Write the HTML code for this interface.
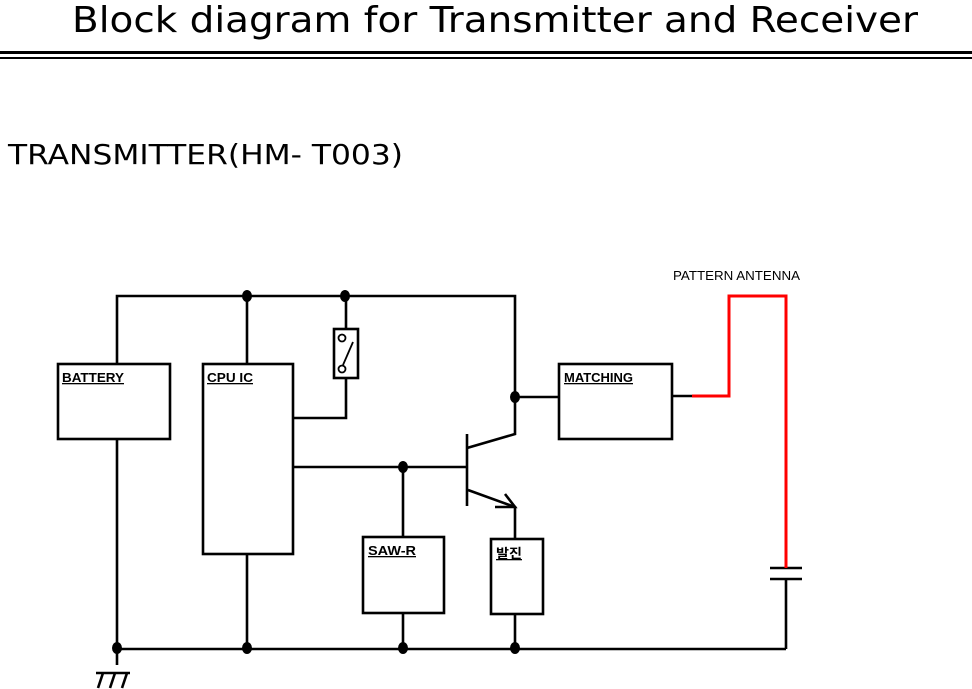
<!DOCTYPE html>
<html><head><meta charset="utf-8"><style>
html,body{margin:0;padding:0;background:#fff;}
svg{display:block;}
</style></head><body>
<svg width="972" height="689" xmlns="http://www.w3.org/2000/svg">
<text x="72" y="32" font-family="DejaVu Sans, sans-serif" font-size="36" textLength="846" lengthAdjust="spacingAndGlyphs" fill="#000">Block diagram for Transmitter and Receiver</text>
<rect x="0" y="51" width="972" height="3" fill="#000"/>
<rect x="0" y="57" width="972" height="2" fill="#000"/>
<text x="8" y="164" font-family="DejaVu Sans, sans-serif" font-size="28" textLength="395" lengthAdjust="spacingAndGlyphs" fill="#000">TRANSMITTER(HM- T003)</text>

<g stroke="#000" stroke-width="2.6" fill="none">
<polyline points="117,364 117,296 515,296 515,434 467,448"/>
<line x1="247" y1="296" x2="247" y2="364"/>
<line x1="346" y1="296" x2="346" y2="329"/>
<polyline points="346,378 346,418 293,418"/>
<rect x="58" y="364" width="112" height="75"/>
<rect x="203" y="364" width="90" height="190"/>
<rect x="334" y="329" width="24" height="49"/>
<rect x="559" y="364" width="113" height="75"/>
<rect x="363" y="537" width="81" height="76"/>
<rect x="491" y="539" width="52" height="75"/>
<line x1="117" y1="439" x2="117" y2="665"/>
<line x1="247" y1="554" x2="247" y2="649"/>
<line x1="515" y1="397" x2="559" y2="397"/>
<line x1="293" y1="467" x2="467" y2="467"/>
<line x1="403" y1="467" x2="403" y2="537"/>
<line x1="467" y1="434" x2="467" y2="506"/>
<polyline points="468,490 515,507 515,539"/>
<polyline points="495,507 515,507 505,494"/>
<line x1="403" y1="613" x2="403" y2="649"/>
<line x1="515" y1="614" x2="515" y2="649"/>
<line x1="117" y1="649" x2="786" y2="649"/>
<line x1="786" y1="579" x2="786" y2="649"/>
<line x1="672" y1="396" x2="692" y2="396"/>
<line x1="770" y1="568" x2="802" y2="568"/>
<line x1="770" y1="579" x2="802" y2="579"/>
<line x1="96" y1="673" x2="130" y2="673"/>
<line x1="103" y1="673" x2="98" y2="688"/>
<line x1="115" y1="673" x2="110" y2="688"/>
<line x1="127" y1="673" x2="122" y2="688"/>
<circle cx="342" cy="338" r="3.5" stroke-width="1.8"/>
<circle cx="342" cy="369" r="3.5" stroke-width="1.8"/>
<line x1="343" y1="365" x2="353" y2="342" stroke-width="1.8"/>
</g>
<polyline points="692,396 729,396 729,296 786,296 786,568" stroke="#f00" stroke-width="3" fill="none"/>
<g fill="#000">
<ellipse cx="247" cy="296" rx="5" ry="6"/>
<ellipse cx="345" cy="296" rx="5" ry="6"/>
<ellipse cx="515" cy="397" rx="5" ry="6"/>
<ellipse cx="403" cy="467" rx="5" ry="6"/>
<ellipse cx="117" cy="648" rx="5" ry="6"/>
<ellipse cx="247" cy="648" rx="5" ry="6"/>
<ellipse cx="403" cy="648" rx="5" ry="6"/>
<ellipse cx="515" cy="648" rx="5" ry="6"/>
</g>
<g font-family="Liberation Sans, 'Noto Sans CJK KR', sans-serif" font-size="13" font-weight="bold" fill="#000" text-decoration="underline">
<text x="62" y="382" textLength="62" lengthAdjust="spacingAndGlyphs">BATTERY</text>
<text x="207" y="382" textLength="46" lengthAdjust="spacingAndGlyphs">CPU IC</text>
<text x="564" y="382" textLength="69" lengthAdjust="spacingAndGlyphs">MATCHING</text>
<text x="368" y="555" textLength="48" lengthAdjust="spacingAndGlyphs">SAW-R</text>
<text x="496" y="558" textLength="26" lengthAdjust="spacingAndGlyphs">발진</text>
</g>
<text x="673" y="280" font-family="Liberation Sans, sans-serif" font-size="13" textLength="127" lengthAdjust="spacingAndGlyphs" fill="#000">PATTERN ANTENNA</text>
</svg>
</body></html>
